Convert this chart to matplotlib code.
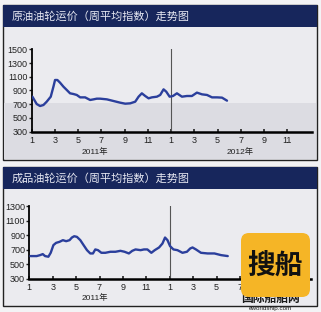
import matplotlib
matplotlib.use("Agg")
import matplotlib.pyplot as plt
from matplotlib.patches import Rectangle, FancyBboxPatch

plt.rcParams['font.family'] = ['Liberation Sans', 'Noto Sans CJK SC', 'DejaVu Sans']

# chart data (month index: 1 = Jan 2011, 13 = Jan 2012)
crude_month = [1.06, 1.43, 1.72, 2.01, 2.29, 2.64, 2.87, 3.01, 3.21, 3.44,
               3.73, 4.02, 4.30, 4.59, 4.88, 5.17, 5.60, 6.03, 6.32, 6.60,
               6.89, 7.47, 8.04, 8.61, 9.05, 9.48, 9.91, 10.20, 10.48, 10.77,
               11.06, 11.34, 11.78, 12.06, 12.35, 12.58, 12.87, 13.16, 13.50, 13.93,
               14.36, 14.79, 15.22, 15.66, 16.09, 16.52, 16.95, 17.38, 17.81]
crude_value = [810, 703, 674, 689, 737, 810, 956, 1053, 1053, 1014,
               956, 907, 859, 849, 835, 800, 800, 762, 771, 781,
               781, 771, 747, 723, 708, 713, 737, 810, 859, 820,
               786, 800, 810, 835, 917, 883, 810, 820, 859, 810,
               820, 820, 869, 844, 835, 800, 800, 796, 752]

product_month = [1.10, 1.63, 1.92, 2.15, 2.35, 2.63, 2.83, 3.06, 3.29, 3.58,
                 3.87, 4.15, 4.44, 4.64, 4.84, 5.07, 5.36, 5.64, 5.93, 6.21,
                 6.44, 6.64, 6.87, 7.16, 7.50, 7.93, 8.36, 8.79, 9.14, 9.51,
                 9.80, 10.08, 10.51, 10.80, 11.09, 11.43, 11.72, 12.09, 12.38, 12.60,
                 12.81, 13.03, 13.32, 13.66, 14.09, 14.47, 14.75, 14.95, 15.24, 15.67,
                 16.24, 16.82, 17.39, 17.96]
product_value = [614, 614, 627, 641, 614, 605, 659, 764, 795, 809,
                 832, 818, 832, 868, 886, 877, 832, 764, 695, 650,
                 650, 705, 695, 659, 659, 673, 673, 686, 673, 650,
                 686, 705, 695, 705, 705, 659, 695, 732, 786, 868,
                 832, 750, 705, 695, 659, 673, 718, 732, 705, 659,
                 650, 650, 627, 614]

month_ticks = [1, 3, 5, 7, 9, 11, 13, 15, 17, 19, 21, 23]
month_labels = ['1', '3', '5', '7', '9', '11', '1', '3', '5', '7', '9', '11']
crude_yticks = [300, 500, 700, 900, 1100, 1300, 1500]
product_yticks = [300, 500, 700, 900, 1100, 1300]

title_crude = "原油油轮运价（周平均指数）走势图"
title_product = "成品油轮运价（周平均指数）走势图"

W, H = 321, 312
NAVY = '#17265c'
LINE = '#2b3f9c'

fig = plt.figure(figsize=(W / 100, H / 100), dpi=100)
fig.patch.set_facecolor('#f3f3f5')

# background layer in pixel coordinates
bg = fig.add_axes([0, 0, 1, 1])
bg.set_xlim(0, W)
bg.set_ylim(H, 0)
bg.axis('off')

for top, bottom, title in [(5, 160, title_crude), (167, 306, title_product)]:
    bg.add_patch(Rectangle((3, top), 314, bottom - top, facecolor='#ebebef',
                           edgecolor='#222222', lw=1.0))
    bg.add_patch(Rectangle((3, top), 314, 22, facecolor=NAVY, edgecolor='none'))
    bg.text(12, top + 11, title, color='#e6e8f2', fontsize=8, va='center',
            family=['Noto Sans CJK SC', 'DejaVu Sans'])
# greyish lower band of top panel
bg.add_patch(Rectangle((4, 103), 312, 56, facecolor='#dcdce2', edgecolor='none'))


def draw(rect, months, values, yticks, ylim):
    ax = fig.add_axes(rect)
    ax.patch.set_alpha(0)
    ax.plot(months, values, color=LINE, lw=1.7, solid_joinstyle='round',
            solid_capstyle='round', zorder=3)
    ax.axvline(13, color='#555555', lw=0.8, zorder=2)
    ax.set_xlim(1, 25.1)
    ax.set_ylim(*ylim)
    ax.set_xticks(month_ticks)
    ax.set_xticklabels(month_labels)
    ax.set_yticks(yticks)
    for s in ['top', 'right']:
        ax.spines[s].set_visible(False)
    ax.spines['left'].set_linewidth(1.3)
    ax.spines['bottom'].set_linewidth(1.8)
    ax.tick_params(axis='x', direction='in', length=2, width=1.2, pad=3,
                   labelsize=6.5, colors='#222222')
    ax.tick_params(axis='y', direction='out', length=2, width=1, pad=1,
                   labelsize=6.5, colors='#222222')
    return ax


draw([31.7 / W, 1 - 131.7 / H, 280 / W, 82.4 / H],
     crude_month, crude_value, crude_yticks, (300, 1500))
draw([29.3 / W, 1 - 279 / H, 282 / W, 73 / H],
     product_month, product_value, product_yticks, (300, 1300))

bg.text(95, 152, "2011年", fontsize=6, ha='center', va='center', color='#222222')
bg.text(240, 152, "2012年", fontsize=6, ha='center', va='center', color='#222222')
bg.text(95, 298, "2011年", fontsize=6, ha='center', va='center', color='#222222')

# watermark drawn on top of everything
wm = fig.add_axes([0, 0, 1, 1])
wm.set_xlim(0, W)
wm.set_ylim(H, 0)
wm.axis('off')
wm.text(271, 298, "国际船舶网", fontsize=8.5, ha='center', va='center',
        color='#1a1a1a', fontweight='bold', family=['Noto Sans CJK SC'])
wm.add_patch(FancyBboxPatch((241, 233), 69, 64, boxstyle="round,pad=0,rounding_size=8",
                            facecolor='#f5b526', edgecolor='none', zorder=5))
wm.text(275, 266, "搜船", fontsize=20, ha='center', va='center', color='#111111',
        fontweight='bold', family=['Noto Sans CJK SC'], zorder=6)
wm.text(270, 308.5, "eworldship.com", fontsize=4.5, ha='center', va='center',
        color='#1a1a1a', zorder=6)

fig.savefig("out.png", dpi=100, facecolor=fig.get_facecolor())
